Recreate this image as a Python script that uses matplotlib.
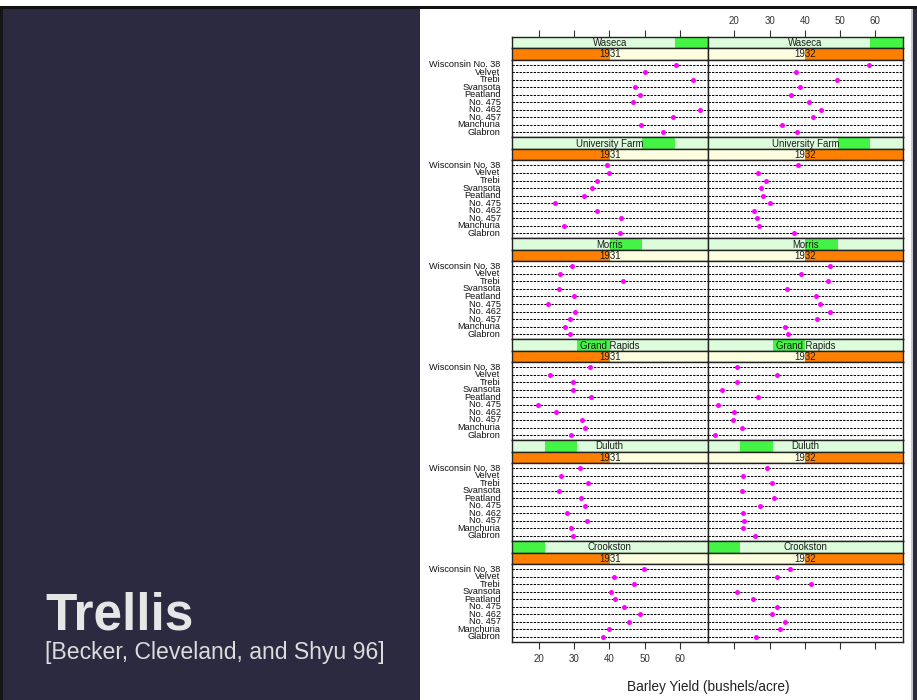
import matplotlib
matplotlib.use("Agg")
import matplotlib.pyplot as plt
from matplotlib.patches import Rectangle

plt.rcParams['font.family'] = ['Liberation Sans', 'DejaVu Sans']

# ---------------- data (barley yield, bushels/acre) ----------------
varieties = ["Wisconsin No. 38", "Velvet", "Trebi", "Svansota", "Peatland",
             "No. 475", "No. 462", "No. 457", "Manchuria", "Glabron"]
sites = ["Waseca", "University Farm", "Morris", "Grand Rapids", "Duluth", "Crookston"]
site_levels = [6, 5, 4, 3, 2, 1]
years = ["1931", "1932"]
x_ticks = [20, 30, 40, 50, 60]

waseca_1931 = [58.80, 50.23, 63.83, 47.33, 48.57, 46.77, 65.77, 58.10, 48.87, 55.20]
waseca_1932 = [58.17, 37.40, 49.23, 38.50, 36.03, 41.27, 44.70, 42.20, 33.47, 37.73]
univ_1931 = [39.30, 39.90, 36.57, 35.13, 32.77, 24.67, 36.60, 43.27, 27.00, 43.07]
univ_1932 = [38.00, 26.80, 29.07, 27.43, 28.07, 30.00, 25.57, 26.43, 26.90, 36.80]
morris_1931 = [29.47, 26.13, 43.77, 25.77, 29.87, 22.60, 30.37, 28.70, 27.43, 28.77]
morris_1932 = [47.17, 38.83, 46.63, 35.03, 43.20, 44.23, 47.00, 43.53, 34.37, 35.13]
grand_1931 = [34.47, 23.03, 29.77, 29.67, 34.70, 19.70, 24.93, 32.17, 32.97, 29.13]
grand_1932 = [20.67, 32.23, 20.63, 16.63, 26.77, 15.23, 19.90, 19.47, 22.13, 14.43]
duluth_1931 = [31.60, 26.30, 33.93, 25.70, 32.00, 33.07, 28.10, 33.60, 28.97, 29.67]
duluth_1932 = [29.33, 22.47, 30.60, 22.23, 31.37, 27.37, 22.50, 22.70, 22.57, 25.87]
crook_1931 = [49.87, 41.33, 46.93, 40.47, 41.60, 44.10, 48.57, 45.67, 39.93, 38.13]
crook_1932 = [35.90, 32.07, 41.83, 20.63, 25.23, 32.13, 30.53, 34.33, 32.97, 26.17]

yields = [
    [waseca_1931, waseca_1932],
    [univ_1931, univ_1932],
    [morris_1931, morris_1932],
    [grand_1931, grand_1932],
    [duluth_1931, duluth_1932],
    [crook_1931, crook_1932],
]

# ---------------- layout ----------------
W, H = 917, 700
fig = plt.figure(figsize=(W / 100, H / 100), dpi=100)
NAVY = "#2b2a40"
fig.patch.set_facecolor(NAVY)

def frect(x, y, w, h):
    return [x / W, 1 - (y + h) / H, w / W, h / H]

def add_bg(x, y, w, h, color):
    fig.patches.append(Rectangle((x / W, 1 - (y + h) / H), w / W, h / H,
                                 transform=fig.transFigure, facecolor=color,
                                 edgecolor="none", zorder=-5))

add_bg(420, 0, 492, 700, "white")
add_bg(0, 0, 917, 6, "white")
add_bg(0, 6, 917, 3, "#111111")
add_bg(911, 9, 1.5, 691, "#c8c8c8")
add_bg(0, 9, 3, 691, "#151515")

fig.text(45 / W, 1 - 629 / H, "Trellis", color="#e6e6e6", fontsize=37,
         fontweight="bold", ha="left", va="baseline")
fig.text(45 / W, 1 - 659 / H, "[Becker, Cleveland, and Shyu 96]", color="#dcdcdc",
         fontsize=16.6, ha="left", va="baseline")

XMIN, XMAX = 12.38, 67.82
col_x = [512, 707.5]
col_w = 195.5
top0 = 36.5
period = 100.9
strip_h = 11.5
data_h = period - 2 * strip_h

STRIP_SITE_BG = "#dcfcdc"
STRIP_SITE_FG = "#44f444"
STRIP_YEAR_BG = "#fdfde0"
STRIP_YEAR_FG = "#ff8000"
EDGE = "#222222"

def strip(x, y, label, lo, hi, bg, fg):
    ax = fig.add_axes(frect(x, y, col_w, strip_h))
    ax.set_xlim(0, 1)
    ax.set_ylim(0, 1)
    ax.set_facecolor(bg)
    ax.add_patch(Rectangle((lo, 0), hi - lo, 1, facecolor=fg, edgecolor="none"))
    ax.text(0.5, 0.45, label, ha="center", va="center", fontsize=6.9, color="#1a1a1a")
    ax.set_xticks([])
    ax.set_yticks([])
    for s in ax.spines.values():
        s.set_color(EDGE)
        s.set_linewidth(1.0)
    return ax

nrow = len(sites)
nvar = len(varieties)
ypos = list(range(nvar, 0, -1))

for r, site in enumerate(sites):
    top = top0 + r * period
    lev = site_levels[r]
    for c, yr in enumerate(years):
        x = col_x[c]
        strip(x, top, site, (lev - 1) / 6, lev / 6, STRIP_SITE_BG, STRIP_SITE_FG)
        strip(x, top + strip_h, yr, 0.0 if c == 0 else 0.5, 0.5 if c == 0 else 1.0,
              STRIP_YEAR_BG, STRIP_YEAR_FG)
        ax = fig.add_axes(frect(x, top + 2 * strip_h, col_w, data_h))
        ax.set_xlim(XMIN, XMAX)
        ax.set_ylim(0.33, nvar + 0.67)
        for yv in ypos:
            ax.axhline(yv, color="black", lw=0.75, ls=(0, (2.2, 1.2)), zorder=1)
        ax.plot(yields[r][c], ypos, "o", color="#ff00ff", markersize=3.6,
                markeredgewidth=0, zorder=3)
        for s in ax.spines.values():
            s.set_color(EDGE)
            s.set_linewidth(1.0)
        ax.set_yticks([])
        ax.set_xticks(x_ticks)
        ax.tick_params(axis="x", direction="out", length=5, width=0.8, color="#333333",
                       labelsize=7, labelcolor="#333333")
        if c == 0:
            for yv, name in zip(ypos, varieties):
                ax.text(-0.058, yv, name, transform=ax.get_yaxis_transform(),
                        ha="right", va="center", fontsize=6.6, color="#111111")
        show_bottom = (r == nrow - 1)
        ax.tick_params(axis="x", bottom=show_bottom, top=False,
                       labelbottom=(show_bottom and c == 0), labeltop=False, pad=3.8)

# top ticks drawn on a transparent axes placed over the top strips
for c in range(2):
    tax = fig.add_axes(frect(col_x[c], top0, col_w, 2 * strip_h))
    tax.set_xlim(XMIN, XMAX)
    tax.patch.set_alpha(0)
    for s in tax.spines.values():
        s.set_visible(False)
    tax.set_yticks([])
    tax.set_xticks(x_ticks)
    tax.tick_params(axis="x", direction="out", length=5, width=0.8, color="#333333",
                    labelsize=7, labelcolor="#333333", bottom=False, labelbottom=False,
                    top=True, labeltop=(c == 1), pad=2.3)

fig.text(708 / W, 1 - 687 / H, "Barley Yield (bushels/acre)", ha="center", va="center",
         fontsize=9.8, color="#222222")

fig.savefig("out.png", dpi=100, facecolor=fig.get_facecolor())
